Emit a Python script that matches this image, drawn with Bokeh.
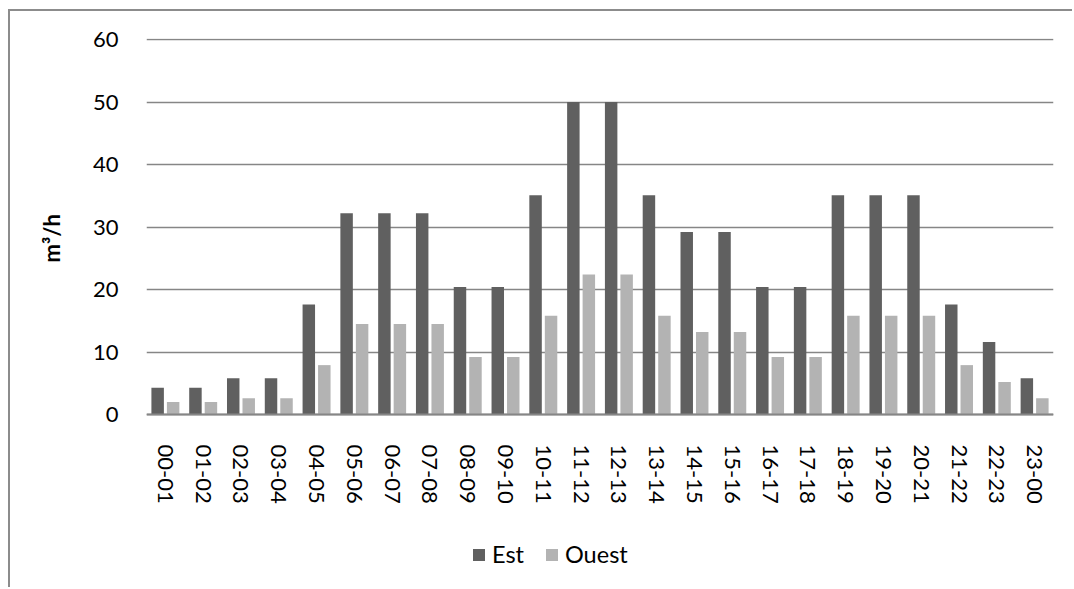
from bokeh.plotting import figure
from bokeh.models import ColumnDataSource, Legend, LegendItem, Title
from bokeh.transform import dodge
from bokeh.embed import file_html
from bokeh.resources import INLINE

# Hourly flow per façade (m³/h)
hours = ["00-01", "01-02", "02-03", "03-04", "04-05", "05-06", "06-07", "07-08",
         "08-09", "09-10", "10-11", "11-12", "12-13", "13-14", "14-15", "15-16",
         "16-17", "17-18", "18-19", "19-20", "20-21", "21-22", "22-23", "23-00"]
est = [4.3, 4.3, 5.8, 5.8, 17.6, 32.2, 32.2, 32.2, 20.4, 20.4, 35.1, 50.0,
       50.0, 35.1, 29.2, 29.2, 20.4, 20.4, 35.1, 35.1, 35.1, 17.6, 11.6, 5.8]
ouest = [2.0, 2.0, 2.6, 2.6, 7.9, 14.5, 14.5, 14.5, 9.2, 9.2, 15.8, 22.4,
         22.4, 15.8, 13.2, 13.2, 9.2, 9.2, 15.8, 15.8, 15.8, 7.9, 5.2, 2.6]
y_ticks = [0, 10, 20, 30, 40, 50, 60]

FONT = "Lato"
GRID = "#868686"

source = ColumnDataSource(dict(hours=hours, est=est, ouest=ouest))

# The frame runs down to the bottom of the canvas: the category axis sits at
# y = 0 and the legend lives underneath it, inside the frame.
p = figure(x_range=hours, y_range=(-28.0, 60.16), width=1064, height=578,
           output_backend="svg", toolbar_location=None,
           min_border_left=136, min_border_right=21,
           min_border_top=27, min_border_bottom=0)
p.styles = {"margin-left": "8px", "margin-top": "9px",
            "border-left": "2px solid #8c8c8c", "border-top": "2px solid #8c8c8c"}
p.outline_line_color = None
p.background_fill_color = "white"
p.border_fill_color = "white"

r_est = p.vbar(x=dodge("hours", -0.205, range=p.x_range), top="est", width=0.33,
               source=source, fill_color="#606060", line_color=None)
r_ouest = p.vbar(x=dodge("hours", 0.205, range=p.x_range), top="ouest", width=0.33,
                 source=source, fill_color="#b3b3b3", line_color=None)

# grid
p.xgrid.grid_line_color = None
p.ygrid.ticker = y_ticks
p.ygrid.grid_line_color = GRID
p.ygrid.grid_line_width = 1.4

# y axis
p.yaxis.ticker = y_ticks
p.yaxis.axis_line_color = None
p.yaxis.major_tick_line_color = None
p.yaxis.minor_tick_line_color = None
p.yaxis.major_label_standoff = 22
p.yaxis.major_label_text_font = FONT
p.yaxis.major_label_text_font_size = "22px"
p.yaxis.major_label_text_color = "black"

unit_title = Title(text="m³/h", align="left", offset=327, standoff=49,
                   text_font=FONT, text_font_size="22px", text_font_style="bold",
                   text_color="black")
p.add_layout(unit_title, "left")

# x axis, pinned at y = 0
p.xaxis.fixed_location = 0
p.xaxis.axis_line_color = GRID
p.xaxis.axis_line_width = 2
p.xaxis.major_tick_line_color = None
p.xaxis.minor_tick_line_color = None
p.xaxis.major_label_orientation = "vertical"
p.xaxis.major_label_standoff = 24
p.xaxis.major_label_text_font = FONT
p.xaxis.major_label_text_font_size = "22px"
p.xaxis.major_label_text_color = "black"

legend = Legend(items=[LegendItem(label="Est", renderers=[r_est]),
                       LegendItem(label="Ouest", renderers=[r_ouest])],
                orientation="horizontal", location=(325, 21),
                glyph_width=15, glyph_height=15, label_standoff=6, spacing=20,
                padding=0, margin=0, border_line_color=None,
                background_fill_alpha=0,
                label_text_font=FONT, label_text_font_size="23.5px",
                label_text_color="black")
p.add_layout(legend, "center")

open("out.html", "w").write(file_html(p, INLINE))
